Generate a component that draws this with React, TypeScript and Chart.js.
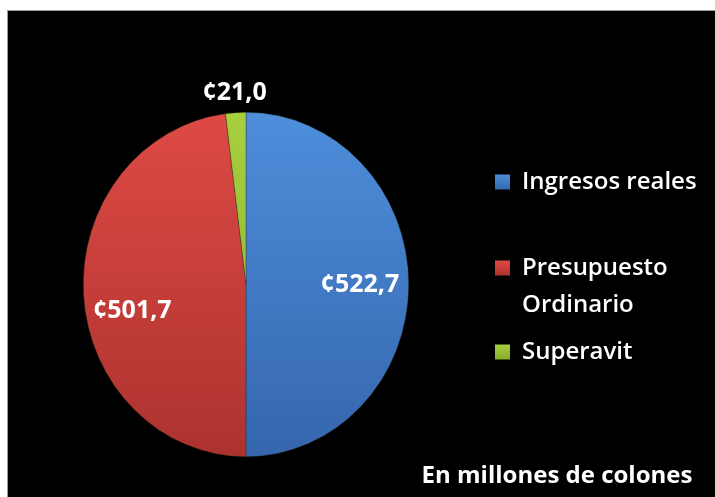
import React, { useEffect, useRef } from "react";
import { Chart, registerables } from "chart.js";

Chart.register(...registerables);

const categories = ["Ingresos reales", "Presupuesto Ordinario", "Superavit"];
const legendLines = [["Ingresos reales"], ["Presupuesto", "Ordinario"], ["Superavit"]];
const values = [522.7, 501.7, 21.0];
const footnote = "En millones de colones";

const topColors = ["#4e8edb", "#de4a45", "#a6d03e"];
const bottomColors = ["#3566ae", "#ad322e", "#86ad2e"];
const legendColors = ["#4a88d6", "#d8504a", "#a4c83c"];

const SX = 0.945;

const fmt = (v: number) => "¢" + v.toFixed(1).replace(".", ",");

const squashPlugin = {
  id: "squash",
  beforeDatasetsDraw(chart: any) {
    const meta = chart.getDatasetMeta(0);
    const arc = meta.data[0];
    if (!arc) return;
    const ctx = chart.ctx as CanvasRenderingContext2D;
    ctx.save();
    ctx.translate(arc.x, arc.y);
    ctx.scale(SX, 1);
    ctx.translate(-arc.x, -arc.y);
  },
  afterDatasetsDraw(chart: any) {
    if (!chart.getDatasetMeta(0).data[0]) return;
    chart.ctx.restore();
  },
};

const overlayPlugin = {
  id: "overlay",
  afterDraw(chart: any) {
    const ctx = chart.ctx as CanvasRenderingContext2D;
    const meta = chart.getDatasetMeta(0);
    ctx.save();
    ctx.fillStyle = "#ffffff";
    ctx.textAlign = "center";
    ctx.textBaseline = "middle";
    ctx.font = "bold 25px 'Open Sans'";
    const extraDy = [0, 19, 0];
    meta.data.forEach((arc: any, i: number) => {
      const { x, y, startAngle, endAngle, outerRadius } = arc.getProps(
        ["x", "y", "startAngle", "endAngle", "outerRadius"],
        true
      );
      const mid = (startAngle + endAngle) / 2;
      const frac = (endAngle - startAngle) / (Math.PI * 2);
      const d = frac < 0.05 ? outerRadius + 20 : outerRadius * 0.7;
      const lx = x + Math.cos(mid) * d * SX;
      const ly = y + Math.sin(mid) * d + extraDy[i];
      ctx.fillText(fmt(values[i]), lx, ly);
    });

    // legend
    const sqX = 487;
    const sqSize = 15;
    const textX = 514;
    const rowCenters = [[171], [257, 294], [341]];
    ctx.textAlign = "left";
    ctx.font = "600 24px 'Open Sans'";
    legendLines.forEach((lines, i) => {
      const cy = rowCenters[i][0];
      const g = ctx.createLinearGradient(0, cy - sqSize / 2, 0, cy + sqSize / 2);
      g.addColorStop(0, topColors[i]);
      g.addColorStop(1, bottomColors[i]);
      ctx.fillStyle = g;
      ctx.fillRect(sqX, cy - sqSize / 2, sqSize, sqSize);
      ctx.fillStyle = "#ffffff";
      lines.forEach((t, j) => {
        ctx.fillText(t, textX, rowCenters[i][j]);
      });
    });

    // footnote
    ctx.font = "bold 24px 'Open Sans'";
    ctx.textAlign = "center";
    ctx.textBaseline = "alphabetic";
    ctx.fillText(footnote, 549, 472);
    ctx.restore();
  },
};

export default function App() {
  const ref = useRef<HTMLCanvasElement>(null);
  useEffect(() => {
    if (!ref.current) return;
    const chart = new Chart(ref.current, {
      type: "pie",
      data: {
        labels: categories,
        datasets: [
          {
            data: values,
            backgroundColor: (c: any) => {
              const ch = c.chart;
              const area = ch.chartArea;
              const i = c.dataIndex ?? 0;
              if (!area) return legendColors[i];
              const g = ch.ctx.createLinearGradient(0, area.top, 0, area.bottom);
              g.addColorStop(0, topColors[i]);
              g.addColorStop(1, bottomColors[i]);
              return g;
            },
            borderWidth: 0.6,
            borderColor: "rgba(40,40,20,0.6)",
          },
        ],
      },
      options: {
        animation: false,
        responsive: false,
        layout: { padding: { left: 65.5, right: 296.5, top: 101, bottom: 40 } },
        plugins: {
          legend: { display: false },
          tooltip: { enabled: false },
        },
      },
      plugins: [squashPlugin, overlayPlugin],
    });
    return () => chart.destroy();
  }, []);
  return (
    <div
      style={{
        position: "absolute",
        left: 7,
        top: 10,
        width: 708,
        height: 487,
        background: "#000",
        borderTop: "1px solid #9a9a9a",
        borderLeft: "1px solid #9a9a9a",
        boxSizing: "border-box",
      }}
    >
      <canvas ref={ref} width={707} height={486} style={{ display: "block" }} />
    </div>
  );
}
